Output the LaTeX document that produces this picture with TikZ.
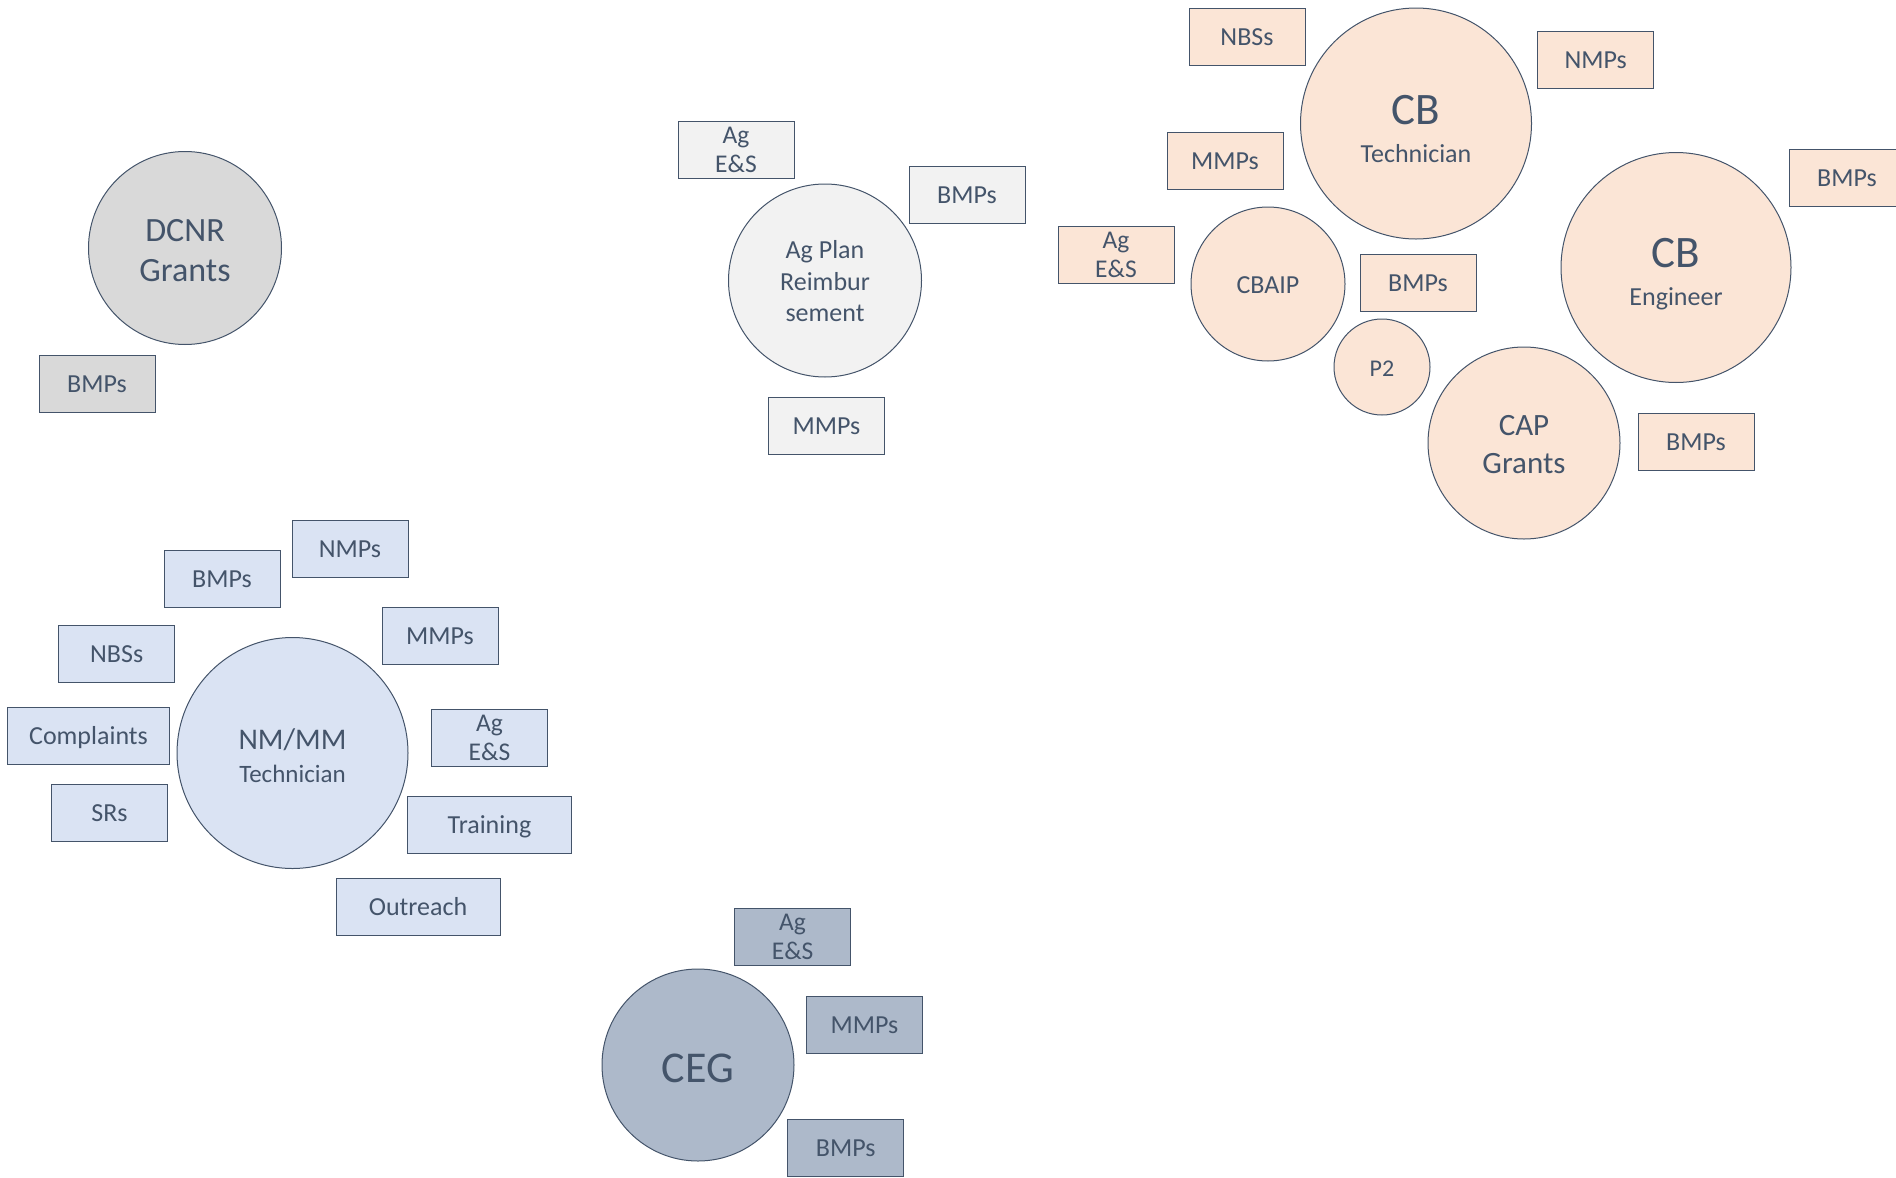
\documentclass[tikz,border=0pt]{standalone}
\usepackage{fontspec}
\setmainfont{Carlito}
\definecolor{edge}{HTML}{44546A}
\definecolor{fgrey}{HTML}{D9D9D9}
\definecolor{flight}{HTML}{F2F2F2}
\definecolor{fpeach}{HTML}{FBE5D6}
\definecolor{fblue}{HTML}{DAE3F3}
\definecolor{fslate}{HTML}{ADB9CA}
\newcommand{\fsz}[1]{\fontsize{#1}{#1}\selectfont}
\tikzset{
  base/.style={draw=edge, line width=1pt, text=edge},
  circ/.style={base, circle, inner sep=0pt},
  box/.style={base, rectangle, minimum width=116pt, minimum height=57pt, inner sep=0pt,
    font=\fsz{26}, text height=17pt, text depth=0pt},
  box2/.style={base, rectangle, minimum width=116pt, minimum height=57pt, inner sep=0pt,
    align=center, font=\fontsize{25.5}{29}\selectfont},
  lbl/.style={anchor=base, text=edge, inner sep=0pt},
}
\begin{document}
\begin{tikzpicture}[x=1pt,y=-1pt]
\useasboundingbox (0,0) rectangle (1896,1178);
\clip (0,0) rectangle (1896,1178);

% ---------- DCNR Grants ----------
\node[circ, fill=fgrey, minimum size=193pt] (dcnr) at (185,248) {};
\node[lbl, font=\fsz{34}] (dcnr-a) at (185,241.7) {DCNR};
\node[lbl, font=\fsz{34}] (dcnr-b) at (185,281.7) {Grants};
\node[box, fill=fgrey] (dcnr-bmp) at (97,383.5) {BMPs};

% ---------- Ag Plan Reimbursement ----------
\node[circ, fill=flight, minimum size=193pt] (agp) at (825,280.5) {};
\node[lbl, font=\fsz{26}] (agp-a) at (825,258) {Ag Plan};
\node[lbl, font=\fsz{26}] (agp-b) at (825,290) {Reimbur};
\node[lbl, font=\fsz{26}] (agp-c) at (825,321.7) {sement};
\node[box2, fill=flight] (agp-aes) at (736,149.5) {Ag\\E\&S};
\node[box, fill=flight] (agp-bmp) at (967,195) {BMPs};
\node[box, fill=flight] (agp-mmp) at (826.5,425.5) {MMPs};

% ---------- CB cluster ----------
\node[circ, fill=fpeach, minimum size=231pt] (cbt) at (1416,123.5) {};
\node[lbl, font=\fsz{45}] (cbt-a) at (1416,124) {CB};
\node[lbl, font=\fsz{26}] (cbt-b) at (1416,162.3) {Technician};
\node[box, fill=fpeach] (cbt-nbs) at (1247,36.5) {NBSs};
\node[box, fill=fpeach] (cbt-nmp) at (1595.7,60) {NMPs};
\node[box, fill=fpeach] (cbt-mmp) at (1225,161) {MMPs};
\node[box2, fill=fpeach] (cb-aes) at (1116,255) {Ag\\E\&S};

\node[circ, fill=fpeach, minimum size=154pt] (cbaip) at (1268,284) {};
\node[lbl, font=\fsz{26}] (cbaip-a) at (1268,293.3) {CBAIP};
\node[box, fill=fpeach] (cbaip-bmp) at (1418,282.5) {BMPs};

\node[circ, fill=fpeach, minimum size=96pt] (p2) at (1382,367) {};
\node[lbl, font=\fsz{24}] (p2-a) at (1382,376.5) {P2};

\node[circ, fill=fpeach, minimum size=192pt] (cap) at (1524,443) {};
\node[lbl, font=\fsz{31}] (cap-a) at (1524,435) {CAP};
\node[lbl, font=\fsz{31}] (cap-b) at (1524,473.3) {Grants};
\node[box, fill=fpeach] (cap-bmp) at (1696,442) {BMPs};

\node[circ, fill=fpeach, minimum size=230pt] (cbe) at (1676,267.5) {};
\node[lbl, font=\fsz{45}] (cbe-a) at (1676,267.5) {CB};
\node[lbl, font=\fsz{26}] (cbe-b) at (1676,305.5) {Engineer};
\node[box, fill=fpeach] (cbe-bmp) at (1847,178) {BMPs};

% ---------- NM/MM Technician ----------
\node[circ, fill=fblue, minimum size=231pt] (nm) at (292.5,753) {};
\node[lbl, font=\fsz{30}] (nm-a) at (292.5,749) {NM/MM};
\node[lbl, font=\fsz{25}] (nm-b) at (292.5,782) {Technician};
\node[box, fill=fblue] (nm-nmp) at (350,548.5) {NMPs};
\node[box, fill=fblue] (nm-bmp) at (222,578.5) {BMPs};
\node[box, fill=fblue] (nm-nbs) at (116.7,653.5) {NBSs};
\node[box, fill=fblue] (nm-mmp) at (440,636) {MMPs};
\node[box2, fill=fblue] (nm-aes) at (489.5,738) {Ag\\E\&S};
\node[box, fill=fblue, minimum width=162pt] (nm-cmp) at (88.5,735.5) {Complaints};
\node[box, fill=fblue] (nm-sr) at (109.5,813) {SRs};
\node[box, fill=fblue, minimum width=164pt] (nm-trn) at (489.5,824.5) {Training};
\node[box, fill=fblue, minimum width=164pt] (nm-out) at (418,906.7) {Outreach};

% ---------- CEG ----------
\node[circ, fill=fslate, minimum size=192pt] (ceg) at (698,1065) {};
\node[lbl, font=\fsz{44}] (ceg-a) at (698,1082) {CEG};
\node[box2, fill=fslate] (ceg-aes) at (792.6,937) {Ag\\E\&S};
\node[box, fill=fslate] (ceg-mmp) at (864.5,1024.5) {MMPs};
\node[box, fill=fslate] (ceg-bmp) at (845.7,1147.5) {BMPs};
\end{tikzpicture}
\end{document}
